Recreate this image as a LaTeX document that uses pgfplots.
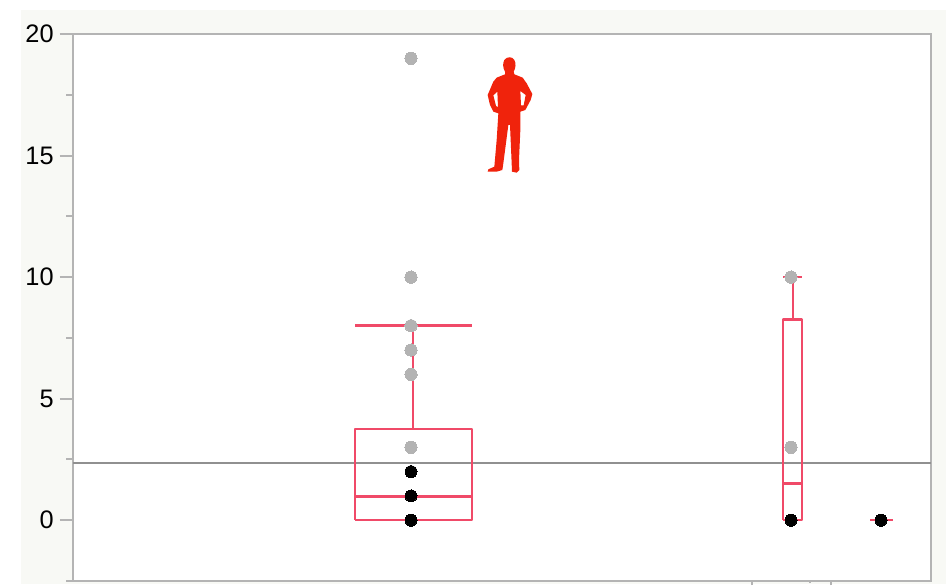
\documentclass[border=0pt]{standalone}
\usepackage{pgfplots}
\pgfplotsset{compat=1.18}
\usepackage{fontspec}
\setmainfont{Liberation Sans}
\definecolor{panel}{HTML}{F8F9F5}
\definecolor{axc}{HTML}{B4B4B4}
\definecolor{boxc}{HTML}{F04A68}
\definecolor{ptg}{HTML}{B3B3B3}
\definecolor{manc}{HTML}{F0230C}
\definecolor{meanc}{HTML}{909090}
\begin{document}
\begin{tikzpicture}[x=0.75pt,y=0.75pt]
\path[use as bounding box] (0,0) rectangle (946,586);
\fill[white] (0,0) rectangle (946,586);
\fill[panel] (21,2) rectangle (946,576);
% short stubs under the bottom axis line
\begin{axis}[
  at={(73pt*0.75,5pt*0.75)}, anchor=south west,
  scale only axis, width=643.5pt, height=410.25pt,
  xmin=73, xmax=931, ymin=-2.5, ymax=20,
  hide y axis,
  axis x line=bottom,
  axis line style={draw=none},
  xtick={752,831},
  minor xtick={810},
  xticklabels={},
  tick align=outside,
  major tick length=3pt,
  minor tick length=1.5pt,
  every tick/.style={axc, line width=1pt},
  clip=false,
]
\end{axis}
\begin{axis}[
  at={(73pt*0.75,5pt*0.75)}, anchor=south west,
  scale only axis, width=643.5pt, height=410.25pt,
  xmin=73, xmax=931, ymin=-2.5, ymax=20,
  axis background/.style={fill=white},
  axis line style={axc, line width=1.6pt},
  every tick/.style={axc, line width=1.5pt},
  ytick={0,5,10,15,20},
  minor ytick={-2.5,2.5,7.5,12.5,17.5},
  xtick=\empty,
  tick align=outside,
  major tick length=10pt,
  minor tick length=5pt,
  ytick pos=left,
  tick label style={font=\fontsize{19}{22}\selectfont, text=black},
  y tick label style={xshift=-1pt},
  /pgf/number format/assume math mode=true,
  clip=false,
]
% mean line
\addplot[meanc, line width=1.7pt] coordinates {(73,2.36) (931,2.36)};
% box 1
\addplot[boxc, line width=1.9pt, line join=round] coordinates {(355,0) (472,0) (472,3.76) (355,3.76) (355,0)};
\addplot[boxc, line width=1.9pt] coordinates {(355,0.97) (472,0.97)};
\addplot[boxc, line width=1.9pt] coordinates {(413,3.76) (413,8)};
\addplot[boxc, line width=1.9pt] coordinates {(355,8) (472,8)};
% box 2
\addplot[boxc, line width=1.9pt, line join=round] coordinates {(783,0) (802,0) (802,8.26) (783,8.26) (783,0)};
\addplot[boxc, line width=1.9pt] coordinates {(783,1.52) (802,1.52)};
\addplot[boxc, line width=1.9pt] coordinates {(793,8.26) (793,10)};
\addplot[boxc, line width=1.9pt] coordinates {(783,10) (802,10)};
% box 3
\addplot[boxc, line width=1.9pt] coordinates {(870,0) (893,0)};
% points
\addplot[ptg, only marks, mark=*, mark size=4.6pt, mark options={draw=ptg, fill=ptg, line width=0pt}]
  coordinates {(411,19) (411,10) (411,8) (411,7) (411,6) (411,3) (791,10) (791,3)};
\addplot[black, only marks, mark=*, mark size=4.5pt, mark options={draw=black, fill=black, line width=0pt}]
  coordinates {(411,2) (411,1) (411,0) (791,0) (881,0)};
\end{axis}
% silhouette (zoom coordinates: px = 340 + X/3, py = 30 + Y/3)
\begin{scope}[x=0.25pt,y=-0.25pt,shift={(255pt,417pt)}]
\fill[manc, even odd rule]
 (495,125) .. controls (489,115) and (487,100) .. (493,90)
 .. controls (500,79) and (518,79) .. (523,90)
 .. controls (529,100) and (527,115) .. (521,125)
 -- (523,133) -- (548,143) -- (560,160) -- (577,192) -- (572,210) -- (556,240)
 -- (541,245) -- (541,300) -- (537,390) -- (538,420) -- (530,428) -- (516,425)
 -- (515,400) -- (510,285) -- (505,285) -- (490,400) -- (487,420) -- (470,425)
 -- (443,425) -- (445,418) -- (463,410) -- (470,330) -- (475,250) -- (460,245)
 -- (450,225) -- (443,195) -- (460,155) -- (470,143) -- (495,133) -- cycle
 (472,185) -- (474,232) -- (468,228) -- (460,196) -- cycle
 (541,183) -- (543,226) -- (551,226) -- (557,195) -- cycle;
\end{scope}
\end{tikzpicture}
\end{document}
